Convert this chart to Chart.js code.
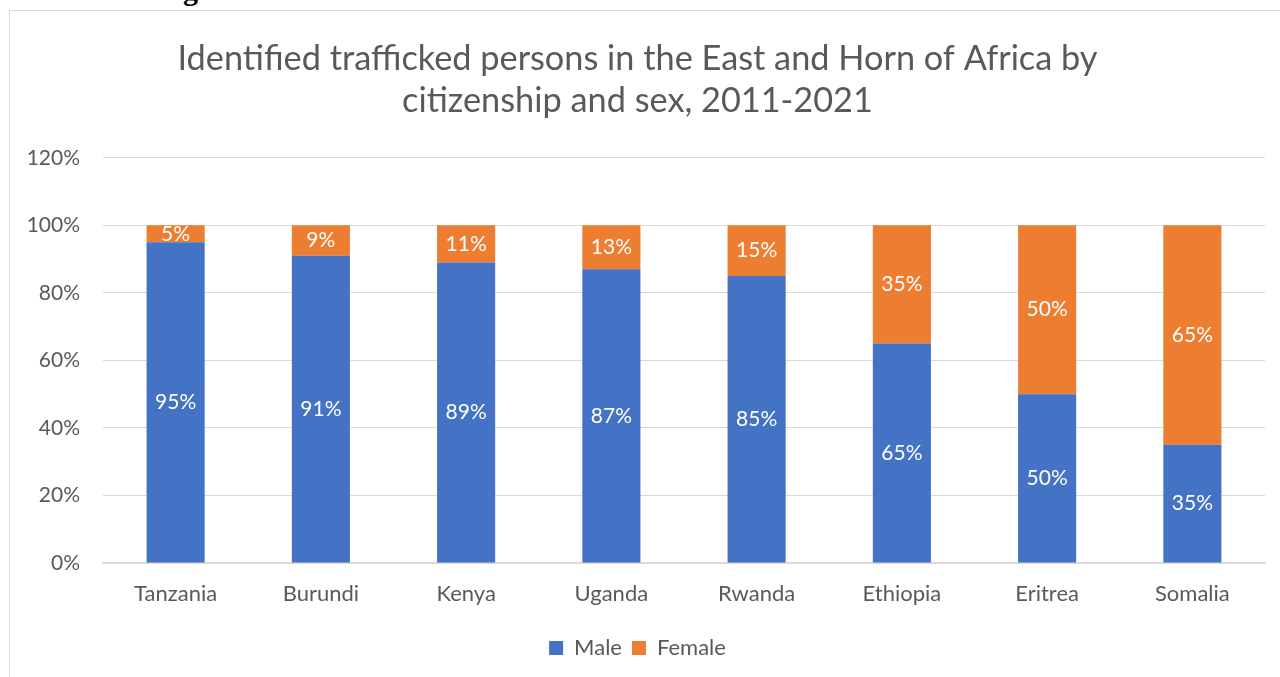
<!DOCTYPE html>
<html>
<head>
<meta charset="utf-8">
<script src="https://cdn.jsdelivr.net/npm/chart.js@4/dist/chart.umd.min.js"></script>
<style>
  html, body { margin: 0; padding: 0; background: #fff; overflow: hidden; }
  #heading {
    position: absolute; left: 183px; top: -27px;
    font: bold 30px "Liberation Serif", serif; color: #000;
  }
  #frame {
    position: absolute; left: 9px; top: 10px;
    width: 1284px; height: 680px;
    border: 1px solid #d9d9d9; background: #fff;
  }
</style>
</head>
<body>
<div id="heading">g</div>
<div id="frame"><canvas id="chartSex" width="1284" height="680"></canvas></div>
<script>
// ------------------------------------------------------------
//  Trafficked persons by citizenship and sex – stacked bars
// ------------------------------------------------------------

const COUNTRIES = ['Tanzania', 'Burundi', 'Kenya', 'Uganda', 'Rwanda', 'Ethiopia', 'Eritrea', 'Somalia'];
const MALE      = [95, 91, 89, 87, 85, 65, 50, 35];
const FEMALE    = [5, 9, 11, 13, 15, 35, 50, 65];
const Y_TICKS   = [0, 20, 40, 60, 80, 100, 120];

const FONT  = "Lato, 'Open Sans', sans-serif";
const GREY  = '#595959';
const BLUE  = '#4472C4';
const ORANGE = '#ED7D31';

// white value labels centred in each segment
const segmentLabels = {
  id: 'segmentLabels',
  afterDatasetsDraw(chart) {
    const { ctx } = chart;
    ctx.save();
    ctx.fillStyle = '#fff';
    ctx.font = `21px ${FONT}`;
    ctx.textAlign = 'center';
    ctx.textBaseline = 'middle';
    chart.data.datasets.forEach((ds, i) => {
      chart.getDatasetMeta(i).data.forEach((bar, j) => {
        const mid = (bar.y + bar.base) / 2;
        ctx.fillText(`${ds.data[j]}%`, bar.x, mid);
      });
    });
    ctx.restore();
  }
};

new Chart(document.getElementById('chartSex').getContext('2d'), {
  type: 'bar',
  data: {
    labels: COUNTRIES,
    datasets: [
      { label: 'Male',   data: MALE,   backgroundColor: BLUE },
      { label: 'Female', data: FEMALE, backgroundColor: ORANGE }
    ]
  },
  options: {
    responsive: false,
    animation: false,
    categoryPercentage: 1,
    barPercentage: 0.4,
    layout: { padding: { left: 0, right: 29, top: 0, bottom: 22 } },
    scales: {
      x: {
        stacked: true,
        grid: { display: false, drawTicks: false },
        border: { color: '#d9d9d9', width: 1.5 },
        ticks: { color: GREY, font: { family: FONT, size: 22 }, padding: 18 },
        afterFit: s => { s.height = 64; }
      },
      y: {
        stacked: true,
        min: 0,
        max: 120,
        afterBuildTicks: s => { s.ticks = Y_TICKS.map(v => ({ value: v })); },
        grid: { color: '#d9d9d9', drawTicks: false },
        border: { display: false },
        ticks: { color: GREY, font: { family: FONT, size: 21 }, padding: 23, callback: v => `${v}%` },
        afterFit: s => { s.width = 93; }
      }
    },
    plugins: {
      title: {
        display: true,
        text: ['Identified trafficked persons in the East and Horn of Africa by', 'citizenship and sex, 2011-2021'],
        color: GREY,
        font: { family: FONT, size: 34.3, weight: 'normal', lineHeight: 1.25 },
        padding: { top: 26, bottom: 35 }
      },
      legend: {
        position: 'bottom',
        labels: { color: GREY, font: { family: FONT, size: 22 }, boxWidth: 14, boxHeight: 14, padding: 10 }
      },
      tooltip: { enabled: false }
    }
  },
  plugins: [segmentLabels]
});
</script>
</body>
</html>
